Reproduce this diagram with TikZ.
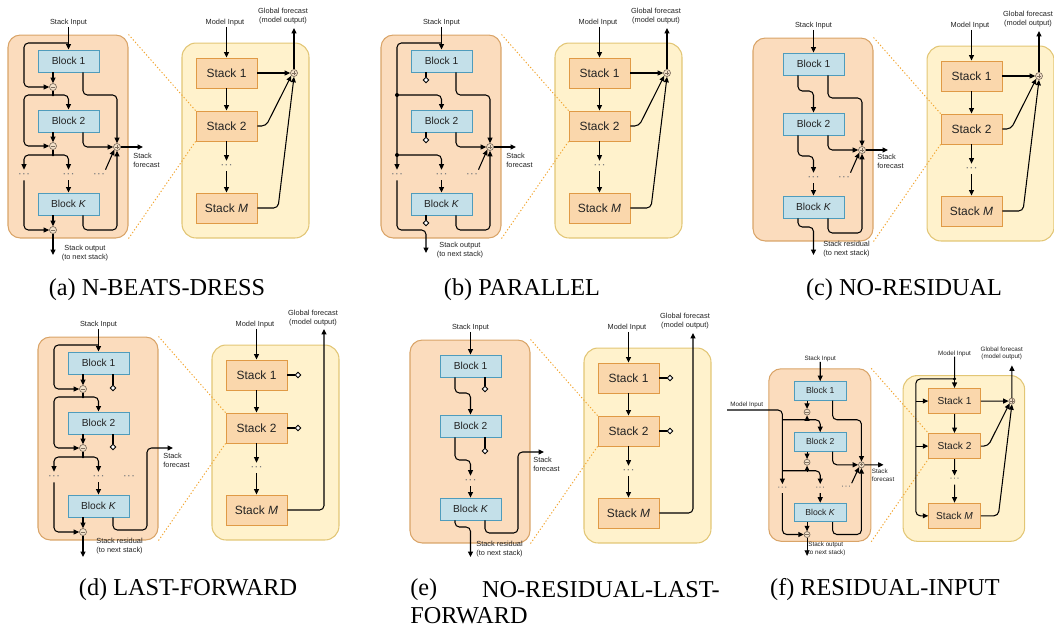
\documentclass[tikz,border=0pt]{standalone}
\usepackage{fontspec}
\setmainfont{Liberation Serif}
\newfontfamily\labfont{Liberation Sans}
\usetikzlibrary{arrows.meta,shapes.geometric,calc}
\definecolor{blkfill}{HTML}{C4E0E9}
\definecolor{blkdraw}{HTML}{4F9CBC}
\definecolor{sffill}{HTML}{FBDCBD}
\definecolor{sfdraw}{HTML}{D9A468}
\definecolor{mffill}{HTML}{FFF2CC}
\definecolor{mfdraw}{HTML}{E2C675}
\definecolor{stfill}{HTML}{FAD7AC}
\definecolor{stdraw}{HTML}{E09A45}
\definecolor{zoomc}{HTML}{F2A531}
\definecolor{txt}{HTML}{222222}
\definecolor{mnfill}{HTML}{F3E1C9}
\definecolor{mndraw}{HTML}{7F6F5F}
\tikzset{
 ln/.style={line width=0.6pt, rounded corners=2.5pt, draw=black},
 arr/.style={ln, -{Triangle[length=3.1pt,width=2.8pt]}},
 sframe/.style={draw=sfdraw, fill=sffill, line width=0.6pt, rounded corners=7pt, minimum width=2.4cm, minimum height=4.06cm, inner sep=0},
 mframe/.style={draw=mfdraw, fill=mffill, line width=0.6pt, rounded corners=8pt, minimum width=2.54cm, minimum height=3.9cm, inner sep=0},
 blk/.style={draw=blkdraw, fill=blkfill, line width=0.5pt, minimum width=1.22cm, minimum height=0.44cm, inner sep=0, font=\labfont\fontsize{5.8}{7}\selectfont, text=txt},
 stk/.style={draw=stdraw, fill=stfill, line width=0.5pt, minimum width=1.22cm, minimum height=0.6cm, inner sep=0, font=\labfont\fontsize{6.8}{8}\selectfont, text=txt},
 lbl/.style={inner sep=0, font=\labfont\fontsize{4.2}{5.1}\selectfont, text=txt},
 dotsn/.style={inner sep=0, minimum height=0.2cm, font=\labfont\fontsize{7}{7}\selectfont, text=gray},
 mns/.style={circle, draw=mndraw, fill=mnfill, line width=0.4pt, minimum size=0.14cm, inner sep=0, path picture={\draw[line width=0.4pt] ([xshift=-1.1pt]path picture bounding box.center) -- ([xshift=1.1pt]path picture bounding box.center);}},
 pls/.style={circle, draw=mndraw, fill=mnfill, line width=0.4pt, minimum size=0.14cm, inner sep=0, path picture={\draw[line width=0.4pt] ([xshift=-1.1pt]path picture bounding box.center) -- ([xshift=1.1pt]path picture bounding box.center); \draw[line width=0.4pt] ([yshift=-1.1pt]path picture bounding box.center) -- ([yshift=1.1pt]path picture bounding box.center);}},
 dia/.style={diamond, draw=black, fill=white, line width=0.5pt, minimum width=0.12cm, minimum height=0.12cm, inner sep=0},
 jdot/.style={circle, fill=black, minimum size=0.08cm, inner sep=0},
 sdot/.style={circle, fill=black, minimum size=0.05cm, inner sep=0},
 zoomln/.style={draw=zoomc, line width=0.55pt, dash pattern=on 0.7pt off 1.2pt},
 captxt/.style={inner sep=0, font=\fontsize{13.8}{16}\selectfont},
}
% stack frame with three blocks and input
\newcommand{\SFrame}[1]{%
 \node[sframe] (#1F) at (68,136.5) {};
 \node[blk] (#1B1) at (68.5,61) {Block 1};
 \node[blk] (#1B2) at (68.5,121) {Block 2};
 \node[blk] (#1BK) at (68.5,204) {Block \textit{K}};
 \coordinate (#1L) at (24,0); \coordinate (#1M) at (53,0);
 \coordinate (#1C) at (68.5,0); \coordinate (#1R) at (83,0);
 \node[lbl] (#1SI) at (68.5,23) {Stack Input};
 \draw[arr] (#1SI) -- (#1B1);
}
\newcommand{\MStacks}[1]{%
 \node[stk] (#1S1) at (226.5,73) {Stack 1};
 \node[stk] (#1S2) at (226.5,126) {Stack 2};
 \node[stk] (#1SM) at (226.5,208) {Stack \textit{M}};
 \node[dotsn] (#1SD) at (226.5,166) {···};
 \draw[arr] (#1S1) -- (#1S2);
 \draw[arr] (#1S2) -- (#1SD);
 \draw[arr] (#1SD) -- (#1SM);
}
\newcommand{\MFrame}[1]{%
 \node[mframe] (#1MF) at (245.5,140.5) {};
 \MStacks{#1}
 \node[lbl] (#1MI) at (225,23) {Model Input};
 \draw[arr] (#1MI.south -| #1S1) -- (#1S1);
}
\newcommand{\MPlus}[1]{%
 \node[pls] (#1MP) at (294,73) {};
 \draw[arr] (#1S1) -- (#1MP);
 \draw[arr] (#1S2.east) -- (266,126) -- (#1MP.south west);
 \draw[arr] (#1SM.east) -- (278,208) -- (#1MP.south);
 \coordinate (#1GO) at (294,28);
 \draw[arr] (#1MP) -- (#1GO);
 \node[lbl,align=center] (#1GF) at (283,16.5) {Global forecast\\(model output)};
}
\newcommand{\ZoomL}[1]{%
 \draw[zoomln] (#1F.north east) -- (#1S2.north west);
 \draw[zoomln] (#1F.south east) -- (#1S2.south west);
}
% three block outputs to forecast plus (a, b, c, f)
\newcommand{\RightPlus}[2]{% #1 prefix, #2 plus y
 \node[pls] (#1P) at (117,#2) {};
 \draw[arr] (#1B1.south -| #1R) -- (83,95) -- (117,95) -- (#1P.north);
 \draw[arr] (#1B2.south -| #1R) -- (83,#2) -- (#1P.west);
 \draw[arr] (#1BK.south -| #1R) -- (83,230) -- (117,230) -- (#1P.south);
 \node[dotsn] (#1D3) at (99,175) {···};
 \draw[arr] (#1D3.north east) -- (#1P.south west);
 \coordinate (#1FO) at (143,#2);
 \draw[arr] (#1P) -- (#1FO);
}
\begin{document}
\begin{tikzpicture}[x=0.02cm,y=-0.02cm]
\useasboundingbox (0,0) rectangle (1054,630);

% ===================== (a)
\begin{scope}
\SFrame{a}
\MFrame{a}
\ZoomL{a}
\node[mns] (am1) at (53,87) {};
\node[mns] (am2) at (53,146) {};
\node[mns] (am3) at (53,230) {};
\coordinate (aj0) at (68.5,43);
\draw[arr] (aj0) -- (24,43) -- (24,87) -- (am1.west);
\draw[arr] (aB1.south -| aM) -- (am1.north);
\node[sdot] (aj1) at (53,95) {};
\draw[ln] (am1.south) -- (aj1.center);
\draw[arr] (aj1.center) -- (24,95) -- (24,146) -- (am2.west);
\draw[arr] (aj1.center) -- (68.5,95) -- (aB2.north);
\draw[arr] (aB2.south -| aM) -- (am2.north);
\node[sdot] (aj2) at (53,155) {};
\draw[ln] (am2.south) -- (aj2.center);
\node[dotsn] (aD1) at (24,175) {···};
\node[dotsn] (aD2) at (68.5,175) {···};
\draw[arr] (aj2.center) -- (24,155) -- (aD1.north);
\draw[arr] (aj2.center) -- (68.5,155) -- (aD2.north);
\draw[arr] (aD2) -- (aBK);
\draw[arr] (aD1.south) -- (24,230) -- (am3.west);
\draw[arr] (aBK.south -| aM) -- (am3.north);
\RightPlus{a}{147}
\node[lbl,anchor=north west,align=left] (aFL) at (133,153) {Stack\\forecast};
\coordinate (aOut) at (53,255);
\draw[arr] (am3.south) -- (aOut);
\node[lbl,align=center] (aOL) at (85,253) {Stack output\\(to next stack)};
\MPlus{a}
\end{scope}

% ===================== (b)
\begin{scope}[shift={(373,0)}]
\SFrame{b}
\MFrame{b}
\ZoomL{b}
\node[dia] (bd1) at (53,80) {};
\node[dia] (bd2) at (53,140) {};
\node[dia] (bdK) at (53,223) {};
\draw[ln] (bB1.south -| bM) -- (bd1.north);
\draw[ln] (bB2.south -| bM) -- (bd2.north);
\draw[ln] (bBK.south -| bM) -- (bdK.north);
\coordinate (bj0) at (68.5,43);
\node[dotsn] (bD1) at (24,175) {···};
\node[dotsn] (bD2) at (68.5,175) {···};
\draw[arr] (bj0) -- (24,43) -- (bD1.north);
\node[jdot] (bj1) at (24,95) {};
\node[jdot] (bj2) at (24,155) {};
\draw[arr] (bj1.center) -- (68.5,95) -- (bB2.north);
\draw[arr] (bj2.center) -- (68.5,155) -- (bD2.north);
\draw[arr] (bD2) -- (bBK);
\coordinate (bOut) at (53,253);
\draw[arr] (bD1.south) -- (24,230) -- (53,230) -- (bOut);
\RightPlus{b}{147}
\node[lbl,anchor=north west,align=left] (bFL) at (133,153) {Stack\\forecast};
\node[lbl,align=center] (bOL) at (87,250) {Stack output\\(to next stack)};
\MPlus{b}
\end{scope}

% ===================== (c)
\begin{scope}[shift={(745,3)}]
\SFrame{c}
\MFrame{c}
\ZoomL{c}
\draw[arr] (cB1.south -| cM) -- (53,88) -- (68.5,88) -- (cB2.north);
\node[dotsn] (cD2) at (68.5,175) {···};
\draw[arr] (cB2.south -| cM) -- (53,153) -- (68.5,153) -- (cD2.north);
\draw[arr] (cD2) -- (cBK);
\coordinate (cOut) at (68.5,252);
\draw[arr] (cBK.south -| cM) -- (53,224) -- (68.5,224) -- (cOut);
\RightPlus{c}{147}
\node[lbl,anchor=north west,align=left] (cFL) at (132,151) {Stack\\forecast};
\node[lbl,anchor=north west,align=left] (cOL) at (78,238) {Stack residual\\(to next stack)};
\MPlus{c}
\end{scope}

% ===================== (d)
\begin{scope}[shift={(30,302)}]
\SFrame{d}
\MFrame{d}
\ZoomL{d}
\node[mns] (dm1) at (53,87) {};
\node[mns] (dm2) at (53,146) {};
\node[mns] (dm3) at (53,230) {};
\coordinate (dj0) at (68.5,43);
\draw[arr] (dj0) -- (24,43) -- (24,87) -- (dm1.west);
\draw[arr] (dB1.south -| dM) -- (dm1.north);
\node[sdot] (dj1) at (53,95) {};
\draw[ln] (dm1.south) -- (dj1.center);
\draw[arr] (dj1.center) -- (24,95) -- (24,146) -- (dm2.west);
\draw[arr] (dj1.center) -- (68.5,95) -- (dB2.north);
\draw[arr] (dB2.south -| dM) -- (dm2.north);
\node[sdot] (dj2) at (53,155) {};
\draw[ln] (dm2.south) -- (dj2.center);
\node[dotsn] (dD1) at (24,175) {···};
\node[dotsn] (dD2) at (68.5,175) {···};
\node[dotsn] (dD3) at (99,175) {···};
\draw[arr] (dj2.center) -- (24,155) -- (dD1.north);
\draw[arr] (dj2.center) -- (68.5,155) -- (dD2.north);
\draw[arr] (dD2) -- (dBK);
\draw[arr] (dD1.south) -- (24,230) -- (dm3.west);
\draw[arr] (dBK.south -| dM) -- (dm3.north);
\node[dia] (dd1) at (83,86) {};
\node[dia] (dd2) at (83,145) {};
\draw[ln] (dB1.south -| dR) -- (dd1.north);
\draw[ln] (dB2.south -| dR) -- (dd2.north);
\coordinate (dFO) at (143,146);
\draw[arr] (dBK.south -| dR) -- (83,228) -- (117,228) -- (117,146) -- (dFO);
\node[lbl,anchor=north west,align=left] (dFL) at (133,151) {Stack\\forecast};
\coordinate (dOut) at (53,255);
\draw[arr] (dm3.south) -- (dOut);
\node[lbl,anchor=north west,align=left] (dOL) at (66,236) {Stack residual\\(to next stack)};
\node[dia] (dsd1) at (268,73) {};
\node[dia] (dsd2) at (268,126) {};
\draw[ln] (dS1.east) -- (dsd1.west);
\draw[ln] (dS2.east) -- (dsd2.west);
\coordinate (dGO) at (294,27);
\draw[arr] (dSM.east) -- (294,208) -- (dGO);
\node[lbl,align=center] (dGF) at (283,16) {Global forecast\\(model output)};
\end{scope}

% ===================== (e)
\begin{scope}[shift={(402,305)}]
\SFrame{e}
\MFrame{e}
\ZoomL{e}
\draw[arr] (eB1.south -| eM) -- (53,88) -- (68.5,88) -- (eB2.north);
\node[dotsn] (eD2) at (68.5,176) {···};
\draw[arr] (eB2.south -| eM) -- (53,155) -- (68.5,155) -- (eD2.north);
\draw[arr] (eD2) -- (eBK);
\coordinate (eOut) at (68.5,252);
\draw[arr] (eBK.south -| eM) -- (53,222) -- (68.5,222) -- (eOut);
\node[dia] (ed1) at (83,84) {};
\node[dia] (ed2) at (83,146) {};
\draw[ln] (eB1.south -| eR) -- (ed1.north);
\draw[ln] (eB2.south -| eR) -- (ed2.north);
\coordinate (eFO) at (142,147);
\draw[arr] (eBK.south -| eR) -- (83,228) -- (116,228) -- (116,147) -- (eFO);
\node[lbl,anchor=north west,align=left] (eFL) at (131,152) {Stack\\forecast};
\node[lbl,anchor=north west,align=left] (eOL) at (74,236) {Stack residual\\(to next stack)};
\node[dia] (esd1) at (268,73) {};
\node[dia] (esd2) at (268,126) {};
\draw[ln] (eS1.east) -- (esd1.west);
\draw[ln] (eS2.east) -- (esd2.west);
\coordinate (eGO) at (291,28);
\draw[arr] (eSM.east) -- (291,208) -- (eGO);
\node[lbl,align=center] (eGF) at (283,16.5) {Global forecast\\(model output)};
\end{scope}

% ===================== (f)
\begin{scope}[shift={(762,339)},scale=0.85,transform shape]
\SFrame{f}
\node[mframe,minimum width=2.86cm] (fMF) at (237.5,140.5) {};
\MStacks{f}
\ZoomL{f}
\node[mns] (fm1) at (53,86) {};
\node[mns] (fm2) at (53,145) {};
\node[mns] (fm3) at (53,230) {};
\node[lbl] (fXI) at (-18,77) {Model Input};
\coordinate (fx0) at (-41,83.5);
\node[dotsn] (fD1) at (24,176) {···};
\node[dotsn] (fD2) at (68.5,176) {···};
\draw[arr] (fx0) -- (24,83.5) -- (fD1.north);
\draw[arr] (fB1.south -| fM) -- (fm1.north);
\coordinate (fj1) at (24,95);
\coordinate (fk1) at (53,95);
\draw[arr] (fj1) -- (68.5,95) -- (fB2.north);
\draw[arr] (fk1) -- (fm1.south);
\draw[arr] (fB2.south -| fM) -- (fm2.north);
\coordinate (fj2) at (24,155);
\coordinate (fk2) at (53,155);
\draw[arr] (fj2) -- (68.5,155) -- (fD2.north);
\draw[arr] (fk2) -- (fm2.south);
\draw[arr] (fD2) -- (fBK);
\draw[arr] (fD1.south) -- (24,230) -- (fm3.west);
\draw[arr] (fBK.south -| fM) -- (fm3.north);
\RightPlus{f}{148}
\node[lbl,anchor=north west,align=left] (fFL) at (129,153) {Stack\\forecast};
\coordinate (fOut) at (53,255);
\draw[arr] (fm3.south) -- (fOut);
\node[lbl,align=center] (fOL) at (75,247) {Stack output\\(to next stack)};
% model side
\node[lbl] (fMI) at (226.5,17) {Model Input};
\node[jdot] (fMJ) at (226.5,47) {};
\draw[ln] (fMI) -- (fMJ.center);
\draw[arr] (fMJ.center) -- (fS1.north);
\draw[arr] (fMJ.center) -- (181,47) -- (181,208) -- (fSM.west);
\coordinate (fl1) at (181,73);
\coordinate (fl2) at (181,126);
\draw[arr] (fl1) -- (fS1.west);
\draw[arr] (fl2) -- (fS2.west);
\node[pls] (fMP) at (294,73) {};
\draw[arr] (fS1) -- (fMP);
\draw[arr] (fS2.east) -- (266,126) -- (fMP.south west);
\draw[arr] (fSM.east) -- (278,208) -- (fMP.south);
\coordinate (fGO) at (294,31);
\draw[arr] (fMP) -- (fGO);
\node[lbl,align=center] (fGF) at (282,17) {Global forecast\\(model output)};
\end{scope}

% ===================== captions
\node[captxt] (capa) at (157,290) {(a) N-BEATS-DRESS};
\node[captxt] (capb) at (522,290) {(b) PARALLEL};
\node[captxt] (capc) at (904,290) {(c) NO-RESIDUAL};
\node[captxt] (capd) at (188,590) {(d) LAST-FORWARD};
\node[captxt,anchor=west] (cape1) at (410,590) {(e)};
\node[captxt,anchor=east] (cape2) at (720,590) {NO-RESIDUAL-LAST-};
\node[captxt,anchor=west] (cape3) at (410,616) {FORWARD};
\node[captxt] (capf) at (885,590) {(f) RESIDUAL-INPUT};
\end{tikzpicture}
\end{document}
